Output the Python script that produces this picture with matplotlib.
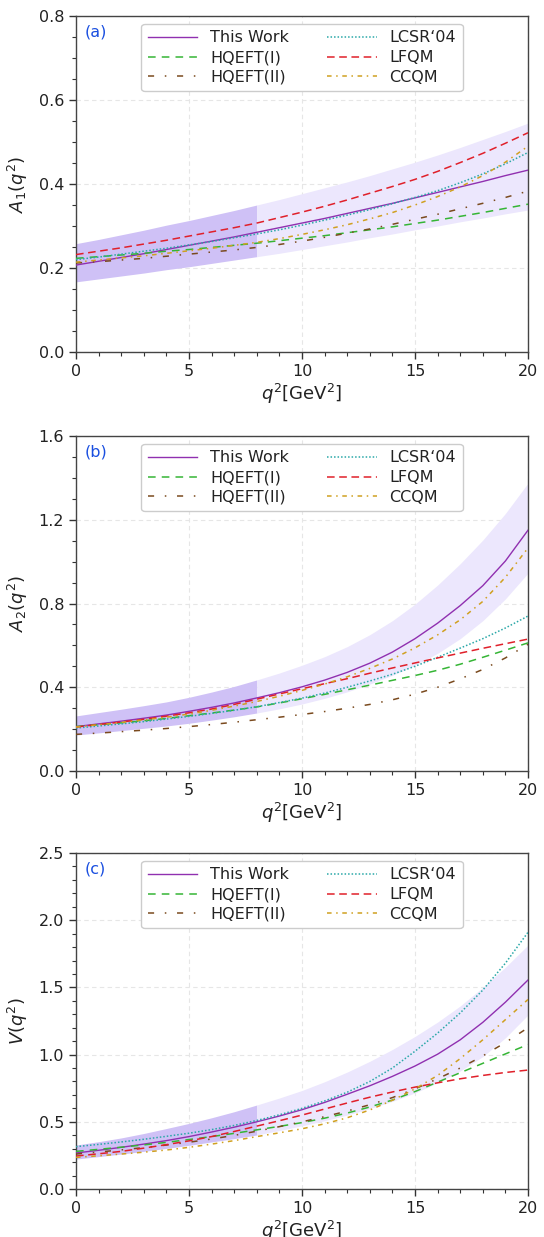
import numpy as np
import matplotlib
matplotlib.use("Agg")
import matplotlib.pyplot as plt
from matplotlib.ticker import MultipleLocator, FormatStrFormatter

q2 = list(range(0, 21))

# ---- panel (a): A1 ----
a_this = [0.207, 0.216, 0.225, 0.234, 0.244, 0.254, 0.264, 0.274, 0.285, 0.296, 0.307,
          0.318, 0.330, 0.342, 0.354, 0.367, 0.380, 0.393, 0.406, 0.420, 0.433]
a_up = [0.258, 0.268, 0.279, 0.290, 0.302, 0.313, 0.325, 0.337, 0.350, 0.363, 0.377,
        0.391, 0.405, 0.420, 0.436, 0.452, 0.469, 0.487, 0.506, 0.525, 0.545]
a_lo = [0.167, 0.174, 0.181, 0.188, 0.196, 0.203, 0.211, 0.219, 0.227, 0.235, 0.244,
        0.253, 0.262, 0.272, 0.281, 0.291, 0.300, 0.310, 0.319, 0.329, 0.338]
a_hq1 = [0.223, 0.227, 0.231, 0.235, 0.240, 0.244, 0.249, 0.254, 0.259, 0.265, 0.271,
         0.277, 0.284, 0.291, 0.298, 0.306, 0.314, 0.323, 0.332, 0.342, 0.352]
a_hq2 = [0.212, 0.215, 0.219, 0.223, 0.228, 0.233, 0.238, 0.243, 0.249, 0.256, 0.264,
         0.273, 0.283, 0.293, 0.304, 0.316, 0.328, 0.341, 0.354, 0.368, 0.383]
a_lcsr = [0.220, 0.226, 0.233, 0.240, 0.247, 0.255, 0.263, 0.272, 0.281, 0.291, 0.302,
          0.314, 0.326, 0.339, 0.353, 0.368, 0.384, 0.403, 0.424, 0.448, 0.475]
a_lfqm = [0.232, 0.240, 0.248, 0.257, 0.266, 0.276, 0.286, 0.296, 0.307, 0.320, 0.333,
          0.347, 0.362, 0.378, 0.394, 0.411, 0.430, 0.451, 0.473, 0.497, 0.522]
a_ccqm = [0.214, 0.219, 0.224, 0.229, 0.235, 0.241, 0.247, 0.254, 0.261, 0.270, 0.280,
          0.291, 0.303, 0.317, 0.332, 0.350, 0.370, 0.393, 0.420, 0.452, 0.490]

# ---- panel (b): A2 ----
b_this = [0.212, 0.225, 0.238, 0.252, 0.267, 0.285, 0.304, 0.325, 0.349, 0.374, 0.402,
          0.434, 0.471, 0.515, 0.568, 0.632, 0.706, 0.790, 0.885, 1.003, 1.150]
b_up = [0.263, 0.279, 0.295, 0.312, 0.330, 0.352, 0.377, 0.404, 0.435, 0.468, 0.505,
        0.546, 0.594, 0.651, 0.718, 0.797, 0.888, 0.990, 1.103, 1.230, 1.375]
b_lo = [0.172, 0.182, 0.193, 0.204, 0.215, 0.228, 0.243, 0.259, 0.277, 0.297, 0.320,
        0.347, 0.378, 0.415, 0.457, 0.505, 0.562, 0.632, 0.718, 0.822, 0.945]
b_hq1 = [0.212, 0.221, 0.230, 0.240, 0.251, 0.264, 0.277, 0.291, 0.306, 0.325, 0.345,
         0.366, 0.388, 0.410, 0.433, 0.456, 0.481, 0.510, 0.543, 0.577, 0.612]
b_hq2 = [0.175, 0.181, 0.188, 0.195, 0.203, 0.212, 0.222, 0.233, 0.245, 0.257, 0.270,
         0.284, 0.300, 0.318, 0.340, 0.367, 0.400, 0.440, 0.485, 0.540, 0.605]
b_lcsr = [0.205, 0.215, 0.225, 0.236, 0.248, 0.261, 0.275, 0.290, 0.307, 0.327, 0.348,
          0.372, 0.400, 0.430, 0.462, 0.500, 0.543, 0.587, 0.632, 0.683, 0.740]
b_lfqm = [0.210, 0.222, 0.234, 0.247, 0.262, 0.278, 0.296, 0.318, 0.343, 0.368, 0.393,
          0.417, 0.441, 0.467, 0.492, 0.516, 0.540, 0.563, 0.586, 0.608, 0.630]
b_ccqm = [0.210, 0.221, 0.232, 0.244, 0.257, 0.272, 0.290, 0.310, 0.332, 0.357, 0.385,
          0.415, 0.450, 0.490, 0.535, 0.588, 0.650, 0.722, 0.810, 0.925, 1.065]

# ---- panel (c): V ----
c_this = [0.268, 0.288, 0.310, 0.334, 0.360, 0.390, 0.424, 0.460, 0.500, 0.543, 0.590,
          0.644, 0.705, 0.768, 0.838, 0.915, 1.003, 1.110, 1.240, 1.390, 1.555]
c_up = [0.327, 0.352, 0.380, 0.413, 0.450, 0.488, 0.530, 0.575, 0.625, 0.677, 0.733,
        0.798, 0.870, 0.950, 1.038, 1.135, 1.242, 1.362, 1.500, 1.650, 1.815]
c_lo = [0.223, 0.241, 0.260, 0.280, 0.302, 0.325, 0.350, 0.375, 0.402, 0.435, 0.470,
        0.508, 0.550, 0.598, 0.652, 0.715, 0.790, 0.878, 0.985, 1.125, 1.295]
c_hq1 = [0.280, 0.295, 0.311, 0.328, 0.347, 0.368, 0.390, 0.414, 0.440, 0.466, 0.494,
         0.527, 0.565, 0.610, 0.662, 0.725, 0.795, 0.865, 0.935, 1.005, 1.075]
c_hq2 = [0.260, 0.275, 0.291, 0.308, 0.327, 0.348, 0.372, 0.399, 0.430, 0.464, 0.500,
         0.538, 0.580, 0.627, 0.680, 0.745, 0.820, 0.900, 0.990, 1.090, 1.200]
c_lcsr = [0.315, 0.332, 0.350, 0.370, 0.392, 0.415, 0.442, 0.473, 0.510, 0.552, 0.600,
          0.655, 0.720, 0.800, 0.900, 1.025, 1.160, 1.310, 1.480, 1.680, 1.910]
c_lfqm = [0.245, 0.262, 0.280, 0.304, 0.330, 0.358, 0.390, 0.428, 0.468, 0.508, 0.550,
          0.595, 0.640, 0.683, 0.722, 0.758, 0.790, 0.820, 0.845, 0.867, 0.885]
c_ccqm = [0.235, 0.247, 0.260, 0.274, 0.290, 0.310, 0.334, 0.360, 0.390, 0.418, 0.448,
          0.485, 0.530, 0.588, 0.660, 0.745, 0.845, 0.970, 1.110, 1.260, 1.410]

labels = ["This Work", "HQEFT(I)", "HQEFT(II)", "LCSR\u201804", "LFQM", "CCQM"]
panel_tags = ["(a)", "(b)", "(c)"]
ylabels = [r"$A_1(q^2)$", r"$A_2(q^2)$", r"$V(q^2)$"]
ymaxes = [0.8, 1.6, 2.5]
majors = [0.2, 0.4, 0.5]
minors = [0.05, 0.1, 0.1]

series = [
    (a_this, a_up, a_lo, a_hq1, a_hq2, a_lcsr, a_lfqm, a_ccqm),
    (b_this, b_up, b_lo, b_hq1, b_hq2, b_lcsr, b_lfqm, b_ccqm),
    (c_this, c_up, c_lo, c_hq1, c_hq2, c_lcsr, c_lfqm, c_ccqm),
]

fig = plt.figure(figsize=(5.44, 12.37), dpi=100)
W, H = 544, 1237
boxes = [(16, 352), (436, 771), (853, 1189)]
x0, x1 = 76, 528

q = np.array(q2, dtype=float)
split = 8.0

for i, ((this, up, lo, hq1, hq2, lcsr, lfqm, ccqm), (top, bot)) in enumerate(zip(series, boxes)):
    ax = fig.add_axes([x0 / W, 1 - bot / H, (x1 - x0) / W, (bot - top) / H])
    ax.set_axisbelow(True)
    up = np.array(up); lo = np.array(lo)
    m1 = q <= split
    m2 = q >= split
    ax.fill_between(q[m1], lo[m1], up[m1], color="#cfc1f6", lw=0, zorder=1)
    ax.fill_between(q[m2], lo[m2], up[m2], color="#ece7fd", lw=0, zorder=1)
    ax.plot(q2, this, color="#9030b0", lw=1.0, label=labels[0], zorder=3)
    ax.plot(q2, hq1, color="#35b535", lw=1.1, ls=(0, (5, 4)), label=labels[1], zorder=3)
    ax.plot(q2, hq2, color="#7a4a1e", lw=1.1, ls=(0, (4, 7, 1, 7)), label=labels[2], zorder=3)
    ax.plot(q2, lcsr, color="#2aa8a8", lw=1.1, ls=(0, (1, 1.3)), label=labels[3], zorder=3)
    ax.plot(q2, lfqm, color="#e0202a", lw=1.1, ls=(0, (5, 3)), label=labels[4], zorder=3)
    ax.plot(q2, ccqm, color="#d0a020", lw=1.1, ls=(0, (3, 3, 1, 3)), label=labels[5], zorder=3)

    ax.set_xlim(0, 20)
    ax.set_ylim(0, ymaxes[i])
    ax.xaxis.set_major_locator(MultipleLocator(5))
    ax.xaxis.set_minor_locator(MultipleLocator(1))
    ax.yaxis.set_major_locator(MultipleLocator(majors[i]))
    ax.yaxis.set_minor_locator(MultipleLocator(minors[i]))
    ax.yaxis.set_major_formatter(FormatStrFormatter("%.1f"))
    ax.grid(True, which="major", ls=(0, (4, 3)), color="#e6e6e6", lw=0.8)
    ax.tick_params(which="major", direction="out", length=5, width=1, labelsize=11.5,
                   colors="#333333", labelcolor="#222222")
    ax.tick_params(which="minor", direction="out", length=3, width=0.8, colors="#333333")
    for s in ax.spines.values():
        s.set_color("#444444")
        s.set_linewidth(1.0)
    ax.set_xlabel(r"$q^2$[GeV$^2$]", fontsize=13, color="#222222", labelpad=2)
    ax.set_ylabel(ylabels[i], fontsize=13, color="#222222", labelpad=6)
    ax.text(0.02, 0.975, panel_tags[i], transform=ax.transAxes, color="#1a4fe0",
            fontsize=11.5, ha="left", va="top")
    leg = ax.legend(loc="upper center", ncol=2, fontsize=11.5, handlelength=3.1,
                    frameon=True, fancybox=True, edgecolor="#cccccc", framealpha=1.0,
                    columnspacing=2.4, borderpad=0.4, labelspacing=0.3)
    for t in leg.get_texts():
        t.set_color("#222222")

fig.savefig("out.png", dpi=100)
